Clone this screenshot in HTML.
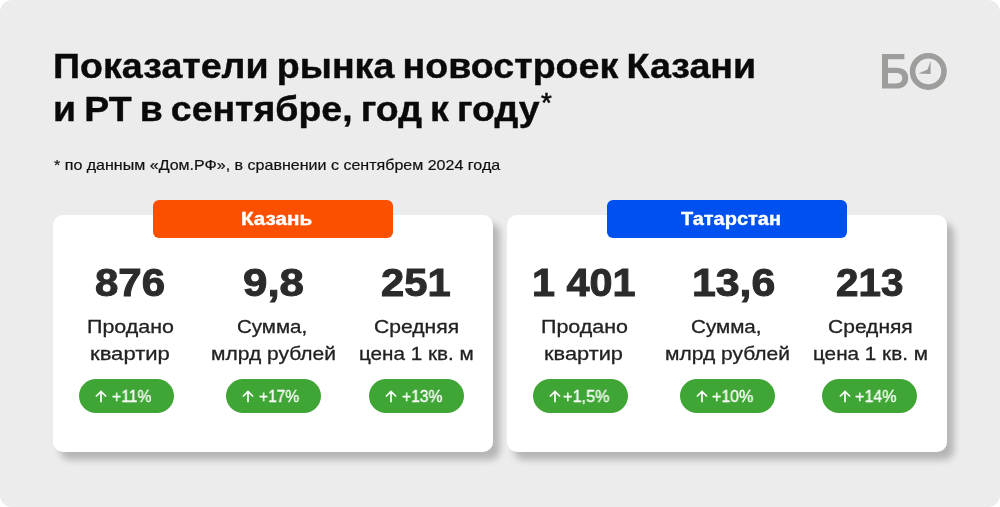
<!DOCTYPE html>
<html><head><meta charset="utf-8">
<style>
html,body{margin:0;padding:0;background:#fff;}
body{width:1000px;height:507px;overflow:hidden;font-family:"Liberation Sans",sans-serif;position:relative;}
.bg{position:absolute;left:0;top:0;width:1000px;height:507px;background:#ececec;border-radius:12px;}
.t{position:absolute;white-space:nowrap;transform-origin:0 0;line-height:60px;height:60px;will-change:transform;}
.card{position:absolute;top:214.7px;width:439.8px;height:237.3px;background:#fff;border-radius:10px;box-shadow:7px 8px 7px rgba(0,0,0,.23);}
.pill{position:absolute;top:200px;height:37.8px;width:239px;border-radius:6px;}
.badge{position:absolute;top:379.3px;width:95px;height:33.6px;border-radius:17px;background:#3fa535;}
.ar{position:absolute;}
</style></head><body>
<div class="bg"></div>
<div class="card" style="left:53.2px;"></div>
<div class="card" style="left:507.1px;"></div>
<div class="pill" style="left:153.1px;width:239.5px;background:#fa5000;"></div>
<div class="pill" style="left:607.0px;width:239.5px;background:#0050f0;"></div>
<div class="badge" style="left:78.5px"></div><div class="badge" style="left:225.6px"></div><div class="badge" style="left:368.5px"></div><div class="badge" style="left:533.0px"></div><div class="badge" style="left:679.6px"></div><div class="badge" style="left:822.4px"></div>
<svg class="ar" style="left:95.20px;top:389.8px" width="12" height="14" viewBox="0 0 12 14"><path d="M6 12.2 V1.8 M0.9 6.5 L6 1.4 L11.1 6.5" fill="none" stroke="#fff" stroke-width="1.7" stroke-linecap="butt" stroke-linejoin="miter"/></svg><svg class="ar" style="left:241.50px;top:389.8px" width="12" height="14" viewBox="0 0 12 14"><path d="M6 12.2 V1.8 M0.9 6.5 L6 1.4 L11.1 6.5" fill="none" stroke="#fff" stroke-width="1.7" stroke-linecap="butt" stroke-linejoin="miter"/></svg><svg class="ar" style="left:384.50px;top:389.8px" width="12" height="14" viewBox="0 0 12 14"><path d="M6 12.2 V1.8 M0.9 6.5 L6 1.4 L11.1 6.5" fill="none" stroke="#fff" stroke-width="1.7" stroke-linecap="butt" stroke-linejoin="miter"/></svg><svg class="ar" style="left:548.85px;top:389.8px" width="12" height="14" viewBox="0 0 12 14"><path d="M6 12.2 V1.8 M0.9 6.5 L6 1.4 L11.1 6.5" fill="none" stroke="#fff" stroke-width="1.7" stroke-linecap="butt" stroke-linejoin="miter"/></svg><svg class="ar" style="left:696.25px;top:389.8px" width="12" height="14" viewBox="0 0 12 14"><path d="M6 12.2 V1.8 M0.9 6.5 L6 1.4 L11.1 6.5" fill="none" stroke="#fff" stroke-width="1.7" stroke-linecap="butt" stroke-linejoin="miter"/></svg><svg class="ar" style="left:838.65px;top:389.8px" width="12" height="14" viewBox="0 0 12 14"><path d="M6 12.2 V1.8 M0.9 6.5 L6 1.4 L11.1 6.5" fill="none" stroke="#fff" stroke-width="1.7" stroke-linecap="butt" stroke-linejoin="miter"/></svg>
<div class="t" style="left:541.2px;top:72.6px;font-size:28px;color:#0a0a0a;-webkit-text-stroke:0.5px #0a0a0a;">*</div>
<svg style="position:absolute;left:880px;top:50px" width="70" height="42" viewBox="0 0 70 42">
<path d="M2 4 H24.4 V9.2 H8 V17.8 H16 C24 17.8 28.2 21.6 28.2 28 C28.2 34.6 24 38.6 16 38.6 H2 Z M8 23 V33.4 H15.6 C20 33.4 22.2 31.6 22.2 28.2 C22.2 24.8 20 23 15.6 23 Z" fill="#9d9d9c" fill-rule="evenodd"/>
<circle cx="48.3" cy="21.4" r="15.7" fill="none" stroke="#9d9d9c" stroke-width="5.6"/>
<path d="M50.6 10.8 V24 L38.2 23.4 L47.6 19.6 Z" fill="#9d9d9c"/>
</svg>
<div class="t" style="left:53.31px;top:36.20px;font-size:34.5px;font-weight:bold;color:#0a0a0a;transform:scaleX(1.0899);-webkit-text-stroke:0.4px #0a0a0a;word-spacing:-0.06em;">Показатели рынка новостроек Казани</div>
<div class="t" style="left:53.21px;top:78.80px;font-size:34.5px;font-weight:bold;color:#0a0a0a;transform:scaleX(1.0853);-webkit-text-stroke:0.4px #0a0a0a;word-spacing:-0.06em;">и РТ в сентябре, год к году</div>
<div class="t" style="left:54.30px;top:135.20px;font-size:14.5px;font-weight:normal;color:#111;transform:scaleX(1.1057);-webkit-text-stroke:0.2px #111;">* по данным «Дом.РФ», в сравнении с сентябрем 2024 года</div>
<div class="t" style="left:241.40px;top:188.80px;font-size:19px;font-weight:bold;color:#fff;transform:scaleX(1.0877);-webkit-text-stroke:0.4px #fff;">Казань</div>
<div class="t" style="left:681.35px;top:188.80px;font-size:19px;font-weight:bold;color:#fff;transform:scaleX(1.0510);-webkit-text-stroke:0.4px #fff;">Татарстан</div>
<div class="t" style="left:95.40px;top:253.00px;font-size:39px;font-weight:bold;color:#2b2b2b;transform:scaleX(1.0769);-webkit-text-stroke:1px #2b2b2b;">876</div>
<div class="t" style="left:242.60px;top:253.00px;font-size:39px;font-weight:bold;color:#2b2b2b;transform:scaleX(1.1241);-webkit-text-stroke:1px #2b2b2b;">9,8</div>
<div class="t" style="left:381.20px;top:253.00px;font-size:39px;font-weight:bold;color:#2b2b2b;transform:scaleX(1.0692);-webkit-text-stroke:1px #2b2b2b;">251</div>
<div class="t" style="left:531.84px;top:253.00px;font-size:39px;font-weight:bold;color:#2b2b2b;transform:scaleX(1.0608);-webkit-text-stroke:1px #2b2b2b;">1 401</div>
<div class="t" style="left:691.90px;top:253.00px;font-size:39px;font-weight:bold;color:#2b2b2b;transform:scaleX(1.0973);-webkit-text-stroke:1px #2b2b2b;">13,6</div>
<div class="t" style="left:835.60px;top:253.00px;font-size:39px;font-weight:bold;color:#2b2b2b;transform:scaleX(1.0354);-webkit-text-stroke:1px #2b2b2b;">213</div>
<div class="t" style="left:86.57px;top:297.20px;font-size:19px;font-weight:normal;color:#222;transform:scaleX(1.1289);-webkit-text-stroke:0.3px #222;">Продано</div>
<div class="t" style="left:89.90px;top:324.00px;font-size:19px;font-weight:normal;color:#222;transform:scaleX(1.1609);-webkit-text-stroke:0.3px #222;">квартир</div>
<div class="t" style="left:237.30px;top:297.20px;font-size:19px;font-weight:normal;color:#222;transform:scaleX(1.0797);-webkit-text-stroke:0.3px #222;">Сумма,</div>
<div class="t" style="left:210.90px;top:324.00px;font-size:19px;font-weight:normal;color:#222;transform:scaleX(1.1053);-webkit-text-stroke:0.3px #222;">млрд рублей</div>
<div class="t" style="left:373.70px;top:297.20px;font-size:19px;font-weight:normal;color:#222;transform:scaleX(1.1105);-webkit-text-stroke:0.3px #222;">Средняя</div>
<div class="t" style="left:359.20px;top:324.00px;font-size:19px;font-weight:normal;color:#222;transform:scaleX(1.0886);-webkit-text-stroke:0.3px #222;">цена 1 кв. м</div>
<div class="t" style="left:540.57px;top:297.20px;font-size:19px;font-weight:normal;color:#222;transform:scaleX(1.1289);-webkit-text-stroke:0.3px #222;">Продано</div>
<div class="t" style="left:544.30px;top:324.00px;font-size:19px;font-weight:normal;color:#222;transform:scaleX(1.1478);-webkit-text-stroke:0.3px #222;">квартир</div>
<div class="t" style="left:691.30px;top:297.20px;font-size:19px;font-weight:normal;color:#222;transform:scaleX(1.0859);-webkit-text-stroke:0.3px #222;">Сумма,</div>
<div class="t" style="left:664.90px;top:324.00px;font-size:19px;font-weight:normal;color:#222;transform:scaleX(1.1053);-webkit-text-stroke:0.3px #222;">млрд рублей</div>
<div class="t" style="left:827.60px;top:297.20px;font-size:19px;font-weight:normal;color:#222;transform:scaleX(1.1066);-webkit-text-stroke:0.3px #222;">Средняя</div>
<div class="t" style="left:812.70px;top:324.00px;font-size:19px;font-weight:normal;color:#222;transform:scaleX(1.0895);-webkit-text-stroke:0.3px #222;">цена 1 кв. м</div>
<div class="t" style="left:112.20px;top:366.20px;font-size:16.5px;font-weight:normal;color:#fff;transform:scaleX(0.9524);-webkit-text-stroke:0.3px #fff;">+11%</div>
<div class="t" style="left:259.00px;top:366.20px;font-size:16.5px;font-weight:normal;color:#fff;transform:scaleX(0.9419);-webkit-text-stroke:0.3px #fff;">+17%</div>
<div class="t" style="left:401.75px;top:366.20px;font-size:16.5px;font-weight:normal;color:#fff;transform:scaleX(0.9477);-webkit-text-stroke:0.3px #fff;">+13%</div>
<div class="t" style="left:563.40px;top:366.20px;font-size:16.5px;font-weight:normal;color:#fff;transform:scaleX(0.9851);-webkit-text-stroke:0.3px #fff;">+1,5%</div>
<div class="t" style="left:712.40px;top:366.20px;font-size:16.5px;font-weight:normal;color:#fff;transform:scaleX(0.9674);-webkit-text-stroke:0.3px #fff;">+10%</div>
<div class="t" style="left:855.20px;top:366.20px;font-size:16.5px;font-weight:normal;color:#fff;transform:scaleX(0.9744);-webkit-text-stroke:0.3px #fff;">+14%</div>
</body></html>
